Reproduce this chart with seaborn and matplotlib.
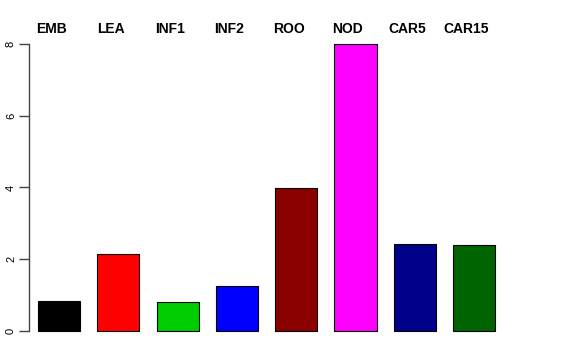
import matplotlib
matplotlib.use("Agg")
import matplotlib.pyplot as plt
import seaborn as sns
import pandas as pd

categories = ["EMB", "LEA", "INF1", "INF2", "ROO", "NOD", "CAR5", "CAR15"]
values = [0.84, 2.14, 0.81, 1.25, 3.98, 8.0, 2.42, 2.39]
colors = ["#000000", "#FF0000", "#00CD00", "#0000FF", "#8B0000", "#FF00FF", "#00008B", "#006400"]
yticks = [0, 2, 4, 6, 8]

sns.set_style("white")
plt.rcParams["font.family"] = ["Liberation Sans", "DejaVu Sans"]
plt.rcParams["text.color"] = "black"
plt.rcParams["ytick.color"] = "black"

W, H = 576, 360
fig = plt.figure(figsize=(W / 100, H / 100), dpi=100)

# axes placement in pixels
px_left, px_right = 28.5, 560
px_top, px_bottom = 33, 342
ax = fig.add_axes([px_left / W, 1 - px_bottom / H, (px_right - px_left) / W, (px_bottom - px_top) / H])

df = pd.DataFrame({"cat": categories, "val": values})
sns.barplot(data=df, x="cat", y="val", hue="cat", palette=colors, legend=False,
            width=0.71, edgecolor="black", linewidth=0.8, saturation=1, ax=ax)

pitch = 59.3
c0 = 59.0
ax.set_xlim((px_left - c0) / pitch, (px_right - c0) / pitch)
ppu = (331 - 44) / 8.0
ax.set_ylim(-(px_bottom - 331) / ppu, 8 + (44 - px_top) / ppu)

for s in ["top", "right", "bottom"]:
    ax.spines[s].set_visible(False)
ax.spines["left"].set_bounds(0, 8)
ax.spines["left"].set_color("#444444")
ax.spines["left"].set_linewidth(1.0)
ax.set_xticks([])
ax.set_yticks(yticks)
ax.set_yticklabels([str(t) for t in yticks], rotation=90, va="center", fontsize=8, color="black")
ax.tick_params(axis="y", direction="out", length=7, width=1.0, color="#444444", pad=2, left=True)
ax.set_xlabel("")
ax.set_ylabel("")

for i, c in enumerate(categories):
    ax.text(i - 0.127, 1 - (29 - px_top) / (px_bottom - px_top), c, transform=ax.get_xaxis_transform(),
            ha="center", va="center", fontsize=10, fontweight="bold", color="black")

fig.savefig("out.png", dpi=100)
